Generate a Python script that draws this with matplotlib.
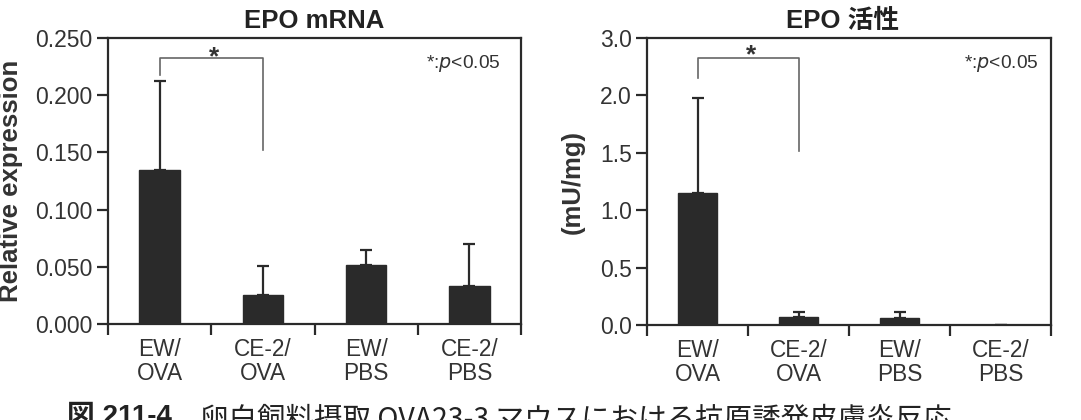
import matplotlib
matplotlib.use("Agg")
import matplotlib.pyplot as plt
import numpy as np

plt.rcParams["font.family"] = ["Liberation Sans", "Noto Sans CJK JP", "DejaVu Sans"]

groups = ["EW/\nOVA", "CE-2/\nOVA", "EW/\nPBS", "CE-2/\nPBS"]

# left panel: EPO mRNA, linear axis
mrna_mean = [0.135, 0.025, 0.052, 0.033]
mrna_top = [0.212, 0.051, 0.065, 0.070]
mrna_ticks = [0.0, 0.05, 0.10, 0.15, 0.20, 0.25]
mrna_labels = ["0.000", "0.050", "0.100", "0.150", "0.200", "0.250"]

# right panel: EPO activity, axis segment 2.0-3.0 squeezed into one 0.5 step
act_mean = [1.15, 0.073, 0.058, 0.0]
act_top = [1.98, 0.117, 0.117, 0.0]
act_ticks = [0.0, 0.5, 1.0, 1.5, 2.0, 2.5]
act_labels = ["0.0", "0.5", "1.0", "1.5", "2.0", "3.0"]

W, H = 1081, 420
fig = plt.figure(figsize=(W / 100, H / 100), dpi=100)

bar_col = "#2a2a2a"
txt_col = "#333333"


def panel(rect, mean, top, ticks, labels, title, title_x, ylabel, label_x,
          bracket, star_y, note_x):
    ax = fig.add_axes(rect)
    x = np.arange(len(mean)) + 0.5
    mean = np.array(mean)
    top = np.array(top)
    ax.bar(x, mean, width=0.39, color=bar_col, edgecolor=bar_col, zorder=2)
    ax.errorbar(x, mean, yerr=[np.zeros_like(mean), top - mean], fmt="none",
                ecolor=bar_col, elinewidth=1.6, capsize=4.5, capthick=1.6, zorder=1)
    ax.set_xlim(0, 4)
    ax.set_ylim(ticks[0], ticks[-1])
    ax.set_yticks(ticks)
    ax.set_yticklabels(labels, fontsize=16.5, color=txt_col)
    ax.set_xticks([0, 1, 2, 3, 4])
    ax.set_xticklabels([])
    ax.set_xticks(x, minor=True)
    ax.set_xticklabels(groups, minor=True, fontsize=16.3, color=txt_col, linespacing=1.05)
    ax.tick_params(axis="x", which="minor", length=0, pad=10)
    ax.tick_params(axis="x", which="major", length=8, width=1.6, color=bar_col)
    ax.tick_params(axis="y", length=8, width=1.6, color=bar_col, pad=3)
    for s in ax.spines.values():
        s.set_linewidth(1.6)
        s.set_color(bar_col)
    ax.text(title_x, 1.058, title, transform=ax.transAxes, ha="center", va="center",
            fontsize=18.5, fontweight="bold", color="#222222")
    ax.set_ylabel(ylabel, fontsize=18.5, fontweight="bold", color=txt_col)
    ax.yaxis.set_label_coords(label_x, 0.5)
    y0, yt, y1 = bracket
    ax.plot([x[0], x[0], x[1], x[1]], [y0, yt, yt, y1], color="#666666", lw=1.2)
    ax.text(1.03, star_y, "*", ha="center", va="center",
            fontsize=19, fontweight="bold", color=txt_col)
    ax.text(note_x, 0.912, r"*:$\mathit{p}$<0.05", transform=ax.transAxes, ha="right",
            va="center", fontsize=13.8, color=txt_col)
    return ax


panel([108 / W, 96 / H, 413 / W, 286 / H], mrna_mean, mrna_top, mrna_ticks,
      mrna_labels, "EPO mRNA", 0.5, "Relative expression", -0.205,
      (0.2174, 0.2328, 0.152), 0.2335, 0.95)
panel([647 / W, 95 / H, 404 / W, 287 / H], act_mean, act_top, act_ticks,
      act_labels, "EPO 活性", 0.483, "(mU/mg)", -0.155,
      (2.155, 2.325, 1.52), 2.35, 0.97)

fig.text(67 / W, 1 - 404 / H, "図 211-4", fontsize=20, fontweight="bold",
         va="top", ha="left", color="#222222")
fig.text(200 / W, 1 - 404 / H, "卵白飼料摂取 OVA23-3 マウスにおける抗原誘発皮膚炎反応",
         fontsize=20.5, va="top", ha="left", color="#222222",
         family=["Noto Sans CJK JP", "DejaVu Sans"])

fig.savefig("out.png", dpi=100)
